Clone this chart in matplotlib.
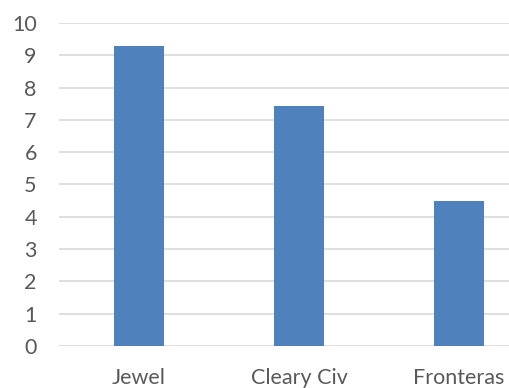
import matplotlib.pyplot as plt

categories = ["Jewel", "Cleary Civ", "Fronteras"]
values = [9.3, 7.43, 4.49]

plt.rcParams['font.family'] = ['Lato', 'DejaVu Sans']

fig = plt.figure(figsize=(5.1, 3.88), dpi=100)
ax = fig.add_axes([59 / 510, 1 - 346 / 388, 480 / 510, 323 / 388])

x = range(len(categories))
ax.bar(x, values, width=0.3125, color='#4f81bd', zorder=3)

ax.set_xlim(-0.5, 2.5)
ax.set_ylim(0, 10)
ax.set_yticks(range(0, 11))
ax.set_xticks(list(x))
ax.set_xticklabels(categories)

ax.grid(axis='y', color='#d9d9d9', linewidth=1.2, zorder=0)
for s in ax.spines.values():
    s.set_visible(False)
ax.tick_params(axis='both', length=0, labelsize=15.5, labelcolor='#595959')
ax.tick_params(axis='y', pad=16)
ax.tick_params(axis='x', pad=16)

fig.savefig("out.png", dpi=100)
